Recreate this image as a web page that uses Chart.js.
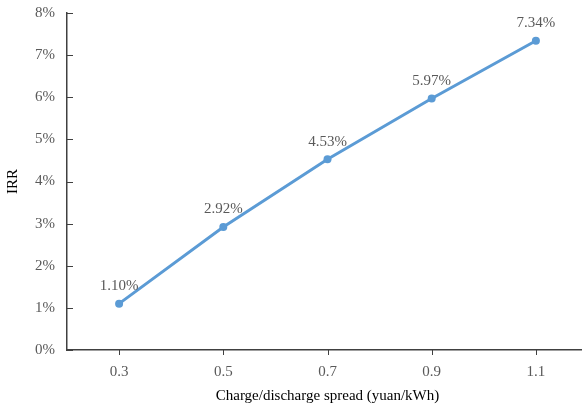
<!DOCTYPE html>
<html>
<head>
<meta charset="utf-8">
<script src="https://cdn.jsdelivr.net/npm/chart.js@4/dist/chart.umd.min.js"></script>
<style>
  html, body { margin: 0; padding: 0; background: #fff; overflow: hidden; }
  #box { width: 592px; height: 409px; }
</style>
</head>
<body>
<div id="box"><canvas id="irr_canvas"></canvas></div>
<script>
// categorias e valores
var spreads = ['0.3', '0.5', '0.7', '0.9', '1.1'];
var irrValues = [1.10, 2.92, 4.53, 5.97, 7.34];
var yTicks = [0, 1, 2, 3, 4, 5, 6, 7, 8];

var corLinha = 'rgb(91,155,213)';
var corTexto = '#595959';
var fonte = "'Liberation Serif', 'Times New Roman', serif";

// rotulos em cima dos pontos
var rotulos = {
    id: 'rotulos',
    afterDatasetsDraw: function (chart) {
        var ctx = chart.ctx;
        var meta = chart.getDatasetMeta(0);
        ctx.save();
        ctx.fillStyle = corTexto;
        ctx.font = '15px ' + fonte;
        ctx.textAlign = 'center';
        ctx.textBaseline = 'bottom';
        meta.data.forEach(function (pt, i) {
            ctx.fillText(irrValues[i].toFixed(2) + '%', pt.x, pt.y - 10);
        });
        ctx.restore();
    }
};

// marcas do eixo (y para dentro, x para fora)
var marcas = {
    id: 'marcas',
    afterDraw: function (chart) {
        var ctx = chart.ctx;
        var area = chart.chartArea;
        var y = chart.scales.y;
        var x = chart.scales.x;
        ctx.save();
        ctx.strokeStyle = '#404040';
        ctx.lineWidth = 1;
        ctx.beginPath();
        yTicks.forEach(function (v) {
            var py = Math.round(y.getPixelForValue(v)) + 0.5;
            ctx.moveTo(area.left, py);
            ctx.lineTo(area.left + 6, py);
        });
        spreads.forEach(function (s, i) {
            var px = Math.round(x.getPixelForValue(i)) + 0.5;
            ctx.moveTo(px, area.bottom);
            ctx.lineTo(px, area.bottom + 5);
        });
        ctx.stroke();
        ctx.restore();
    }
};

var dados = {
    labels: spreads,
    datasets: [{
        label: 'IRR',
        data: irrValues,
        fill: false,
        borderColor: corLinha,
        backgroundColor: corLinha,
        borderWidth: 3,
        pointRadius: 4,
        pointBackgroundColor: corLinha,
        pointBorderWidth: 0,
        tension: 0
    }]
};

const config = {
    type: 'line',
    data: dados,
    options: {
        responsive: true,
        maintainAspectRatio: false,
        animation: false,
        layout: { padding: { top: 13, right: 0, left: 0, bottom: 0 } },
        plugins: {
            legend: { display: false },
            tooltip: { enabled: false }
        },
        scales: {
            x: {
                offset: true,
                grid: { display: false, drawTicks: false },
                border: { display: true, color: '#404040', width: 1.5 },
                ticks: { color: corTexto, font: { family: fonte, size: 15 }, padding: 13 },
                title: {
                    display: true,
                    text: 'Charge/discharge spread (yuan/kWh)',
                    color: '#000',
                    font: { family: fonte, size: 15 },
                    padding: { top: 5 }
                },
                afterFit: function (scale) { scale.height = 59; }
            },
            y: {
                min: 0,
                max: 8,
                grid: { display: false, drawTicks: false },
                border: { display: true, color: '#404040', width: 1.5 },
                ticks: {
                    stepSize: 1,
                    color: corTexto,
                    font: { family: fonte, size: 15 },
                    padding: 12,
                    callback: function (v) { return v + '%'; }
                },
                title: {
                    display: true,
                    text: 'IRR',
                    color: '#000',
                    font: { family: fonte, size: 15 },
                    padding: { bottom: 4 }
                },
                afterFit: function (scale) {
                    scale.width = 67;
                    scale.paddingTop = 0;
                    scale.paddingBottom = 0;
                }
            }
        }
    },
    plugins: [rotulos, marcas]
};

let myChart = new Chart(document.getElementById('irr_canvas'), config);
</script>
</body>
</html>
